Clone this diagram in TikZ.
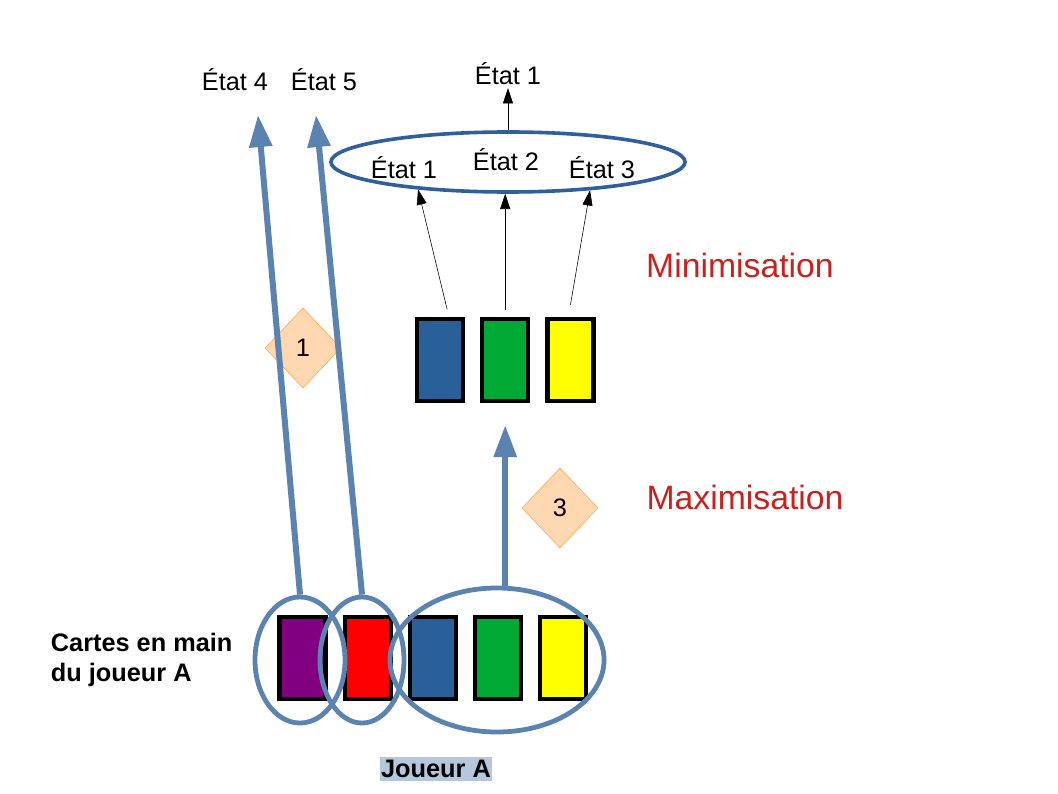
\documentclass[tikz,border=0pt]{standalone}
\usepackage{fontspec}
\setmainfont{Liberation Sans}
\usetikzlibrary{shapes.geometric, arrows.meta, positioning}

\definecolor{cardpurple}{HTML}{800080}
\definecolor{cardred}{HTML}{FF0000}
\definecolor{cardblue}{HTML}{2A6099}
\definecolor{cardgreen}{HTML}{00A933}
\definecolor{cardyellow}{HTML}{FFFF00}
\definecolor{handblue}{HTML}{5B83B0}
\definecolor{setblue}{HTML}{2F5F9C}
\definecolor{peach}{HTML}{FFD8B2}
\definecolor{peachline}{HTML}{FFA64D}
\definecolor{phasered}{HTML}{C9211E}
\definecolor{tagblue}{HTML}{B4C7DC}

\begin{document}
\begin{tikzpicture}[x=0.025cm, y=-0.025cm,
        card/.style={rectangle, draw=black, line width=1.05mm, minimum width=1.15cm, minimum height=2.05cm, inner sep=0pt},
        pick/.style={ellipse, draw=handblue, line width=1.2mm, inner sep=0pt},
        badge/.style={diamond, draw=peachline, fill=peach, line width=0.4pt, minimum width=1.9cm, minimum height=2cm, inner sep=0pt, font=\fontsize{18}{21}\selectfont},
        etat/.style={font=\fontsize{18}{21}\selectfont, inner sep=2pt},
        phase/.style={font=\fontsize{24}{28}\selectfont, text=phasered},
        bigarrow/.style={handblue, line width=1.5mm, -{Triangle[length=0.8cm, width=0.55cm]}},
        thinarrow/.style={black, line width=0.4pt, -{Triangle[length=0.38cm, width=0.25cm]}}
    ]
        \useasboundingbox (0,0) rectangle (1058,794);

        % Hand of player A
        \node[card, fill=cardpurple] (hpurple) at (302.5,658) {};
        \node[card, fill=cardred, right=0.375cm of hpurple] (hred) {};
        \node[card, fill=cardblue, right=0.375cm of hred] (hblue) {};
        \node[card, fill=cardgreen, right=0.375cm of hblue] (hgreen) {};
        \node[card, fill=cardyellow, right=0.375cm of hgreen] (hyellow) {};

        \node[pick, minimum width=2.25cm, minimum height=3.15cm] (pickone) at (300,660) {};
        \node[pick, minimum width=2.1cm, minimum height=3.15cm] (picktwo) at (362,660) {};
        \node[pick, minimum width=5.35cm, minimum height=3.6cm] (pickrest) at (497,660) {};

        \node[font=\bfseries\fontsize{18}{21}\selectfont, align=left, anchor=west] (hand) at (46,660) {Cartes en main\\du joueur A};
        \node[font=\bfseries\fontsize{18}{21}\selectfont, fill=tagblue, inner xsep=1pt, inner ysep=2pt] (player) at (436,769) {Joueur A};

        % Remaining cards
        \node[card, fill=cardblue] (mblue) at (440,360) {};
        \node[card, fill=cardgreen, right=0.375cm of mblue] (mgreen) {};
        \node[card, fill=cardyellow, right=0.375cm of mgreen] (myellow) {};

        % Resulting states
        \node[ellipse, draw=setblue, line width=0.9mm, minimum width=8.85cm, minimum height=1.5cm] (states) at (508,162) {};
        \node[etat] (s1) at (404,168) {État 1};
        \node[etat] (s2) at (506,160) {État 2};
        \node[etat] (s3) at (602,168) {État 3};
        \node[etat] (best) at (508,74) {État 1};
        \node[etat] (s4) at (235,80) {État 4};
        \node[etat] (s5) at (324,80) {État 5};
        \coordinate (tip4) at (258,115);
        \coordinate (tip5) at (316,115);

        \node[phase] (mini) at (740,265) {Minimisation};
        \node[phase] (maxi) at (745,497) {Maximisation};

        \node[badge] (b1) at (303,348) {1};
        \node[badge] (b3) at (560,508) {3};

        \draw[bigarrow] (pickone.north) -- (tip4);
        \draw[bigarrow] (picktwo.north) -- (tip5);
        \draw[bigarrow] (pickrest.north -| mgreen) -- ([yshift=-0.55cm]mgreen.south);

        \draw[thinarrow] ([xshift=0.18cm, yshift=0.18cm]mblue.north) -- (states.-163);
        \draw[thinarrow] ([yshift=0.18cm]mgreen.north) -- (states.south -| mgreen);
        \draw[thinarrow] ([yshift=0.3cm]myellow.north) -- (states.-19);
        \draw[thinarrow] (states.north) -- (best.south);
    \end{tikzpicture}
\end{document}
